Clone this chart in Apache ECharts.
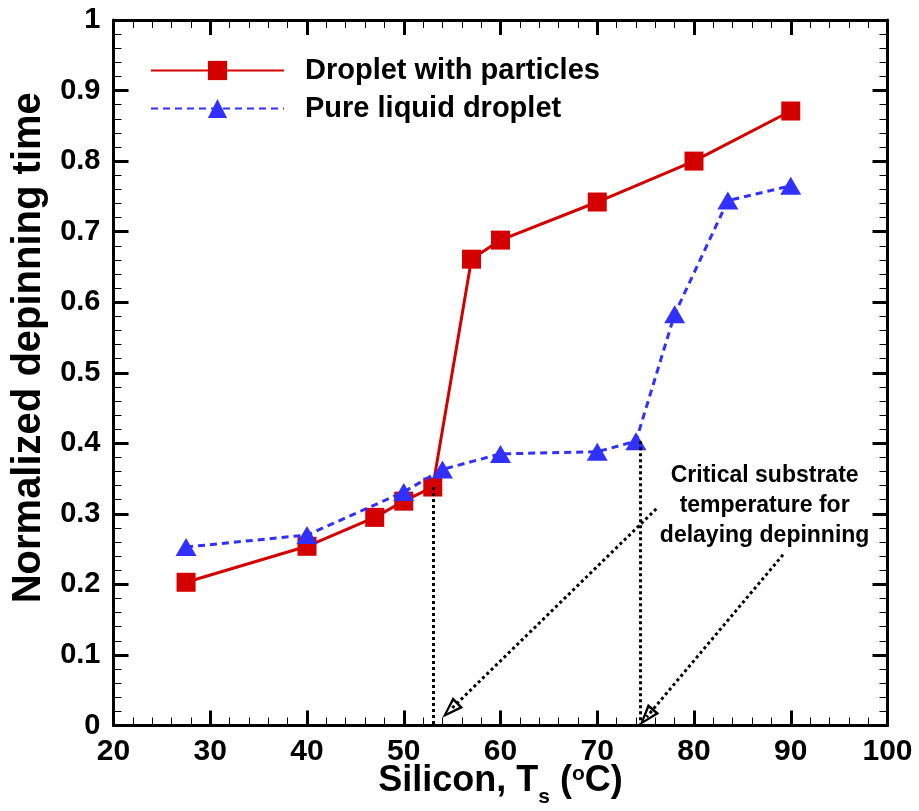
<!DOCTYPE html>
<html><head><meta charset="utf-8">
<script src="https://cdn.jsdelivr.net/npm/echarts@6/dist/echarts.min.js"></script>
<style>html,body{margin:0;padding:0;background:#fff}#c{width:919px;height:811px}</style>
</head><body><div id="c"></div>
<script>
// Data
const particlesX = [27.5, 40, 47, 50, 53, 57, 60, 70, 80, 90];
const particlesY = [0.203, 0.254, 0.295, 0.318, 0.338, 0.661, 0.688, 0.742, 0.800, 0.871];
const pureX = [27.5, 40, 50, 54, 60, 70, 74, 78, 83.5, 90];
const pureY = [0.253, 0.270, 0.331, 0.363, 0.385, 0.388, 0.403, 0.583, 0.744, 0.765];
const seriesNames = ['Droplet with particles', 'Pure liquid droplet'];
const criticalX = [53, 74.4];
const criticalTop = [0.338, 0.403];
const arrowStarts = [[76.1, 0.307], [89.2, 0.242]];
const arrowEnds = [[54.8, 0.022], [75.1, 0.012]];
const noteText = 'Critical substrate\ntemperature for\ndelaying depinning';
const notePos = [87.3, 0.311];

const RED = '#d40000', BLUE = '#3030ff';
const FONT = 'Liberation Sans, Arial, sans-serif';

const openArrow = 'path://M5,0 L10,14 L0,14 Z M5,4.2 L2.3,12.4 L7.7,12.4 Z';

const markLines = [];
criticalX.forEach((x, i) => {
  markLines.push([{coord: [x, criticalTop[i]], symbol: 'none'}, {coord: [x, 0], symbol: 'none'}]);
});
arrowStarts.forEach((s, i) => {
  markLines.push([{coord: s, symbol: 'none'}, {coord: arrowEnds[i], symbol: openArrow, symbolSize: [15, 22]}]);
});

const chart = echarts.init(document.getElementById('c'), null, {renderer: 'canvas'});
const axisCommon = {
  axisLine: {show: true, onZero: false, lineStyle: {color: '#000', width: 3}},
  axisTick: {show: true, inside: true, length: 15, lineStyle: {color: '#000', width: 3}},
  minorTick: {show: true, splitNumber: 5, length: 8, lineStyle: {color: '#000', width: 1}},
  splitLine: {show: false},
  nameMoveOverlap: false
};
chart.setOption({
  animation: false,
  backgroundColor: '#fff',
  grid: {left: 113.5, right: 31.5, top: 20, bottom: 85.5, containLabel: false, outerBoundsMode: 'none'},
  legend: {
    left: 145, top: 51, orient: 'vertical', itemWidth: 133, itemHeight: 24, itemGap: 9,
    data: seriesNames,
    textStyle: {fontFamily: FONT, fontWeight: 'bold', fontSize: 29, color: '#000', padding: [0, 0, 0, 16]}
  },
  xAxis: [
    Object.assign({}, axisCommon, {
      type: 'value', min: 20, max: 100, interval: 10, position: 'bottom',
      axisLabel: {color: '#000', fontFamily: FONT, fontWeight: 'bold', fontSize: 30, margin: 11},
      name: '{a|Silicon, T}{s|s}{a| (}{o|o}{a|C)}', nameLocation: 'middle', nameGap: 38,
      nameTextStyle: {rich: {
        a: {fontFamily: FONT, fontWeight: 'bold', fontSize: 36, color: '#000', verticalAlign: 'bottom'},
        s: {fontFamily: FONT, fontWeight: 'bold', fontSize: 21, color: '#000', verticalAlign: 'bottom', padding: [0, 0, -8, 0]},
        o: {fontFamily: FONT, fontWeight: 'bold', fontSize: 21, color: '#000', verticalAlign: 'top', padding: [0, 0, 12, 0]}
      }}
    }),
    Object.assign({}, axisCommon, {
      type: 'value', min: 20, max: 100, interval: 10, position: 'top', axisLabel: {show: false}
    })
  ],
  yAxis: [
    Object.assign({}, axisCommon, {
      type: 'value', min: 0, max: 1, interval: 0.1, position: 'left',
      axisLabel: {color: '#000', fontFamily: FONT, fontWeight: 'bold', fontSize: 29, margin: 13},
      name: 'Normalized depinning time', nameLocation: 'middle', nameGap: 65,
      nameTextStyle: {fontFamily: FONT, fontWeight: 'bold', fontSize: 40, color: '#000', padding: [0, 0, 0, 50]}
    }),
    Object.assign({}, axisCommon, {
      type: 'value', min: 0, max: 1, interval: 0.1, position: 'right', axisLabel: {show: false}
    })
  ],
  series: [
    {
      name: seriesNames[0], type: 'line', xAxisIndex: 0, yAxisIndex: 0,
      data: particlesX.map((x, i) => [x, particlesY[i]]),
      symbol: 'rect', symbolSize: 19, z: 3,
      lineStyle: {color: RED, width: 3}, itemStyle: {color: RED}
    },
    {
      name: seriesNames[1], type: 'line', xAxisIndex: 0, yAxisIndex: 0,
      data: pureX.map((x, i) => [x, pureY[i]]),
      symbol: 'triangle', symbolSize: [21, 18], z: 4,
      lineStyle: {color: BLUE, width: 3, type: [7, 5]}, itemStyle: {color: BLUE}
    },
    {
      name: 'annotations', type: 'line', data: [], xAxisIndex: 0, yAxisIndex: 0, z: 2, silent: true,
      markLine: {
        silent: true, animation: false,
        label: {show: false},
        lineStyle: {color: '#000', width: 3, type: [3, 3]},
        emphasis: {disabled: true},
        data: markLines
      },
      markPoint: {
        silent: true, symbol: 'circle', symbolSize: 1, itemStyle: {color: 'rgba(0,0,0,0)'},
        label: {show: true, position: 'inside', formatter: noteText, fontFamily: FONT, fontWeight: 'bold',
                fontSize: 23, lineHeight: 30, color: '#000', align: 'center', verticalAlign: 'middle'},
        data: [{coord: notePos}]
      }
    }
  ]
});
</script></body></html>
